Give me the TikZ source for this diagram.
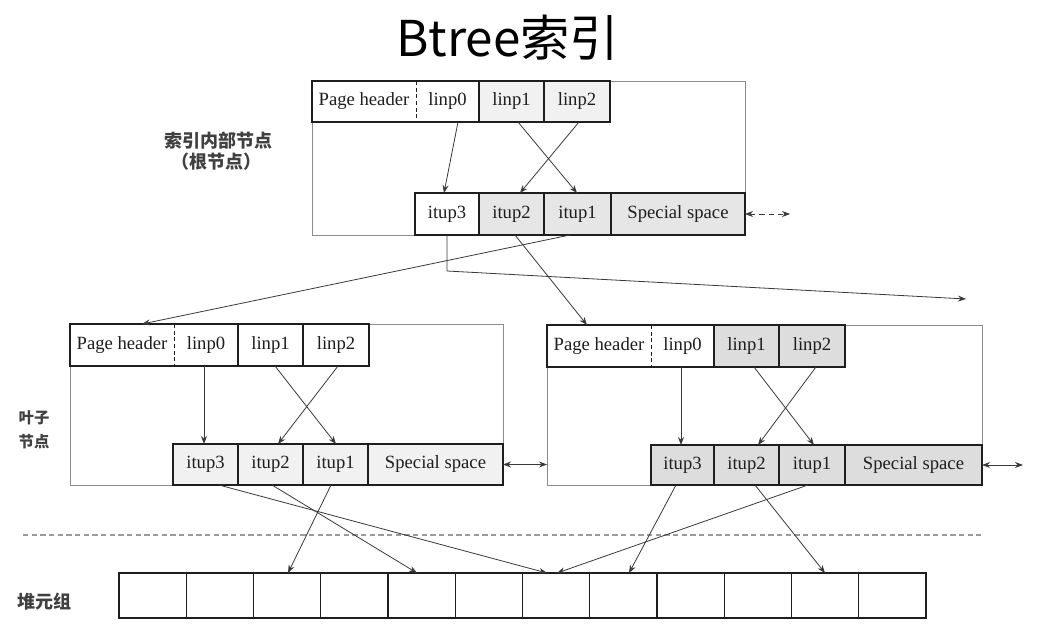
\documentclass[tikz,border=0pt]{standalone}
\usepackage{fontspec}
\setmainfont{Liberation Serif}
\newfontfamily\cjk{Noto Sans CJK SC}
\usetikzlibrary{arrows.meta}

\definecolor{lineC}{HTML}{1E1E1E}
\definecolor{frameC}{HTML}{8C8C8C}
\definecolor{shadeL}{HTML}{F1F1F1}
\definecolor{shadeA}{HTML}{E6E6E6}
\definecolor{shadeB}{HTML}{DDDDDD}
\definecolor{arrowC}{HTML}{3A3A3A}
\definecolor{sepC}{HTML}{9A9A9A}

% [style]{name}{x1}{y1}{x2}{y2}{text}
\newcommand{\mkcell}[7][]{%
  \node[#1, minimum width={(#5-#3)*0.75pt}, minimum height={(#6-#4)*0.75pt}]
    (#2) at ({(#3+#5)/2},{(#4+#6)/2}) {#7};}

\begin{document}
\begin{tikzpicture}[x=0.75pt,y=-0.75pt,
  framebox/.style={draw=frameC, line width=0.6pt, inner sep=0pt, outer sep=0pt},
  cellbox/.style={draw=lineC, line width=1pt, fill=white, inner sep=0pt, outer sep=0pt,
    font=\fontsize{14}{16}\selectfont, text=lineC},
  heapbox/.style={draw=lineC, line width=0.9pt, fill=white, inner sep=0pt, outer sep=0pt},
  plainbox/.style={fill=white, inner sep=0pt, outer sep=0pt,
    font=\fontsize{14}{16}\selectfont, text=lineC},
  cellline/.style={draw=lineC, line width=1pt},
  divline/.style={draw=lineC, line width=0.6pt, dash pattern=on 3pt off 2pt},
  arr/.style={draw=arrowC, line width=0.6pt, -{Stealth[length=6pt,width=4.5pt]}},
  darr/.style={draw=arrowC, line width=0.6pt, {Stealth[length=6pt,width=4.5pt]}-{Stealth[length=6pt,width=4.5pt]}},
  seplinestyle/.style={draw=sepC, line width=1pt, dash pattern=on 4pt off 2.5pt},
  titletext/.style={font=\cjk\fontsize{37}{40}\selectfont, text=black},
  cjklabel/.style={font=\cjk\bfseries\fontsize{13.5}{16}\selectfont, text=lineC!85!white},
  cjksmall/.style={font=\cjk\bfseries\fontsize{11.5}{18}\selectfont, text=lineC!85!white, align=center}
]
\useasboundingbox (0,0) rectangle (1039,632);
\fill[white] (0,0) rectangle (1039,632);

% title
\node[titletext] (title) at (508,38) {Btree索引};

% ---------- root page ----------
\mkcell[framebox]{rf}{312}{81}{745}{235}{}
\mkcell[plainbox]{r-ph}{312}{81}{416}{122}{Page header}
\mkcell[plainbox]{r-l0}{416}{81}{479}{122}{linp0}
\draw[cellline] (r-ph.north west) rectangle (r-l0.south east);
\draw[divline] (r-ph.north east) -- (r-ph.south east);
\mkcell[cellbox,fill=shadeL]{r-l1}{479}{81}{544}{122}{linp1}
\mkcell[cellbox,fill=shadeL]{r-l2}{544}{81}{610}{122}{linp2}
\mkcell[cellbox]{r-i3}{415}{193}{479}{235}{itup3}
\mkcell[cellbox,fill=shadeA]{r-i2}{479}{193}{544}{235}{itup2}
\mkcell[cellbox,fill=shadeA]{r-i1}{544}{193}{611}{235}{itup1}
\mkcell[cellbox,fill=shadeA]{r-sp}{611}{193}{745}{235}{Special space}

\draw[arr] (r-l0.south -| 458,0) -- (r-i3.north -| 444,0);
\draw[arr] (r-l1.south -| 518,0) -- (r-i1.north -| 577,0);
\draw[arr] (r-l2.south -| 579,0) -- (r-i2.north -| 520,0);
\coordinate (r-ext) at (790,214);
\draw[darr, dash pattern=on 4pt off 3pt] (r-sp.east) -- (r-ext);

\node[cjklabel] (lab-root) at (218,141) {索引内部节点};
\node[cjklabel] (lab-root2) at (216,162) {（根节点）};

% ---------- left leaf ----------
\mkcell[framebox]{lf}{70}{324}{503}{485}{}
\mkcell[plainbox]{l-ph}{70}{324}{174}{366}{Page header}
\mkcell[plainbox]{l-l0}{174}{324}{238}{366}{linp0}
\draw[cellline] (l-ph.north west) rectangle (l-l0.south east);
\draw[divline] (l-ph.north east) -- (l-ph.south east);
\mkcell[cellbox]{l-l1}{238}{324}{303}{366}{linp1}
\mkcell[cellbox]{l-l2}{303}{324}{369}{366}{linp2}
\mkcell[cellbox,fill=shadeL]{l-i3}{173}{444}{238}{485}{itup3}
\mkcell[cellbox,fill=shadeL]{l-i2}{238}{444}{303}{485}{itup2}
\mkcell[cellbox,fill=shadeL]{l-i1}{303}{444}{368}{485}{itup1}
\mkcell[cellbox,fill=shadeL]{l-sp}{368}{444}{503}{485}{Special space}

\draw[arr] (l-l0.south -| 204,0) -- (l-i3.north -| 204,0);
\draw[arr] (l-l1.south -| 275,0) -- (l-i1.north -| 336,0);
\draw[arr] (l-l2.south -| 338,0) -- (l-i2.north -| 278,0);

% ---------- right leaf ----------
\mkcell[framebox]{Rf}{547}{325}{982}{485}{}
\mkcell[plainbox]{R-ph}{547}{325}{651}{367}{Page header}
\mkcell[plainbox]{R-l0}{651}{325}{714}{367}{linp0}
\draw[cellline] (R-ph.north west) rectangle (R-l0.south east);
\draw[divline] (R-ph.north east) -- (R-ph.south east);
\mkcell[cellbox,fill=shadeB]{R-l1}{714}{325}{779}{367}{linp1}
\mkcell[cellbox,fill=shadeB]{R-l2}{779}{325}{845}{367}{linp2}
\mkcell[cellbox,fill=shadeB]{R-i3}{651}{445}{714}{485}{itup3}
\mkcell[cellbox,fill=shadeB]{R-i2}{714}{445}{779}{485}{itup2}
\mkcell[cellbox,fill=shadeB]{R-i1}{779}{445}{845}{485}{itup1}
\mkcell[cellbox,fill=shadeB]{R-sp}{845}{445}{982}{485}{Special space}

\draw[arr] (R-l0.south -| 681,0) -- (R-i3.north -| 681,0);
\draw[arr] (R-l1.south -| 754,0) -- (R-i1.north -| 814,0);
\draw[arr] (R-l2.south -| 816,0) -- (R-i2.north -| 758,0);

% sibling links
\draw[darr] (l-sp.east) -- (Rf.west |- l-sp.east);
\coordinate (R-ext) at (1023,465);
\draw[darr] (R-sp.east) -- (R-ext);

\node[cjksmall] (lab-leaf) at (34,430) {叶子\\节点};

% ---------- root to leaves ----------
\draw[arr] (r-i1.south -| 570,0) -- (l-ph.north -| 142,0);
\draw[arr] (r-i2.south -| 515,0) -- (R-ph.north -| 587,0);
\coordinate (r-bend) at (447,271);
\coordinate (r-next) at (966,299);
\draw[arr] (r-i3.south -| 447,0) -- (r-bend) -- (r-next);

% ---------- separator ----------
\coordinate (sepL) at (23,535);
\coordinate (sepR) at (981,535);
\draw[seplinestyle] (sepL) -- (sepR);

% ---------- heap tuples ----------
\foreach \k in {1,...,12}{
  \pgfmathsetmacro{\xa}{119+67.25*(\k-1)}
  \pgfmathsetmacro{\xb}{119+67.25*\k}
  \mkcell[heapbox]{h\k}{\xa}{573}{\xb}{618}{}
}
\node[cjklabel] (lab-heap) at (44,602) {堆元组};

\draw[arr] (l-i3.south -| 219,0) -- (h7.north -| 547,0);
\draw[arr] (l-i2.south -| 272,0) -- (h5.north -| 417,0);
\draw[arr] (l-i1.south -| 331,0) -- (h3.north -| 288,0);
\draw[arr] (R-i3.south -| 676,0) -- (h8.north -| 629,0);
\draw[arr] (R-i2.south -| 755,0) -- (h11.north -| 825,0);
\draw[arr] (R-i1.south -| 808,0) -- (h7.north -| 557,0);
\end{tikzpicture}
\end{document}
